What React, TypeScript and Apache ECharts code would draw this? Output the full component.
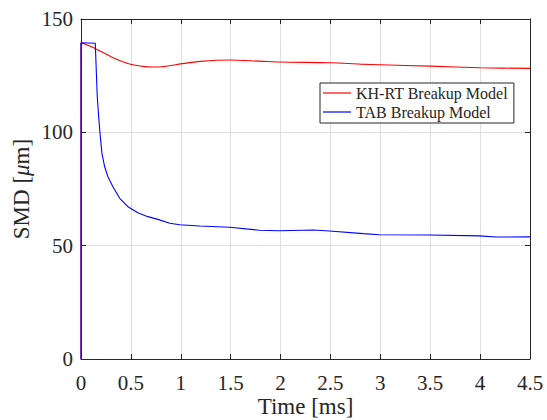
import React, { useEffect, useRef } from "react";
import * as echarts from "echarts";

const timeKH = [0, 0, 0.05, 0.14, 0.3, 0.47, 0.64, 0.77, 0.9, 1.0, 1.2, 1.49, 1.79, 2.0, 2.5, 2.8, 3.0, 3.5, 4.0, 4.5];
const smdKH = [0, 139.5, 138.7, 137, 133.4, 130.4, 129, 128.8, 129.5, 130.2, 131.3, 131.9, 131.4, 131.0, 130.7, 130.1, 129.8, 129.2, 128.5, 128.2];

const timeTAB = [0, 0, 0.143, 0.163, 0.177, 0.19, 0.21, 0.237, 0.27, 0.32, 0.388, 0.47, 0.57, 0.67, 0.77, 0.89, 0.99, 1.19, 1.49, 1.79, 1.99, 2.33, 2.49, 2.83, 2.99, 3.49, 3.99, 4.16, 4.5];
const smdTAB = [0, 139.5, 139.3, 115.7, 106.9, 99.8, 90.7, 84.8, 80.4, 76, 70.9, 67.2, 64.5, 62.8, 61.6, 59.9, 59.2, 58.7, 58.1, 56.8, 56.6, 56.9, 56.5, 55.3, 54.8, 54.7, 54.3, 53.8, 53.9];

const seriesNames = ["KH-RT Breakup Model", "TAB Breakup Model"];
const xTitle = "Time [ms]";

const FONT = "Liberation Serif";
const AX = "#262626";

export default function App() {
  const ref = useRef<HTMLDivElement>(null);
  useEffect(() => {
    if (!ref.current) return;
    const chart = echarts.init(ref.current, null, { renderer: "svg" });
    const zip = (xs: number[], ys: number[]) => xs.map((x, i) => [x, ys[i]]);
    const hiddenAxisCommon = {
      axisLine: { show: true, onZero: false, lineStyle: { color: AX, width: 1 } },
      axisTick: { show: true, inside: true, length: 5, lineStyle: { color: AX } },
      axisLabel: { show: false },
      splitLine: { show: false },
    };
    chart.setOption({
      animation: false,
      backgroundColor: "#ffffff",
      grid: { left: 81, right: 17, top: 19, bottom: 61, containLabel: false, outerBoundsMode: "none" },
      legend: {
        data: seriesNames.map((n) => ({ name: n, icon: "rect" })),
        orient: "vertical",
        left: 320,
        top: 83,
        itemWidth: 28,
        itemHeight: 1.2,
        itemGap: 3,
        padding: [2, 6, 3, 3],
        backgroundColor: "#ffffff",
        borderColor: AX,
        borderWidth: 1,
        borderRadius: 0,
        textStyle: { fontFamily: FONT, fontSize: 16, color: AX, lineHeight: 16 },
      },
      xAxis: [
        {
          type: "value",
          min: 0,
          max: 4.5,
          interval: 0.5,
          position: "bottom",
          name: xTitle,
          nameLocation: "middle",
          nameGap: 36,
          nameMoveOverlap: false,
          nameTextStyle: { fontFamily: FONT, fontSize: 23, lineHeight: 23, color: AX },
          axisLine: { show: true, onZero: false, lineStyle: { color: AX, width: 1 } },
          axisTick: { show: true, inside: true, length: 5, lineStyle: { color: AX } },
          axisLabel: { fontFamily: FONT, fontSize: 21, color: AX, margin: 13 },
          splitLine: { show: true, lineStyle: { color: "#dfdfdf", width: 1 } },
        },
        { type: "value", min: 0, max: 4.5, interval: 0.5, position: "top", ...hiddenAxisCommon },
      ],
      yAxis: [
        {
          type: "value",
          min: 0,
          max: 150,
          interval: 50,
          position: "left",
          name: "{n|SMD [}{i|μ}{n|m]}",
          nameLocation: "middle",
          nameGap: 48,
          nameMoveOverlap: false,
          nameRotate: 90,
          nameTextStyle: {
            fontFamily: FONT,
            fontSize: 23,
            color: AX,
            rich: {
              n: { fontFamily: FONT, fontSize: 23, color: AX },
              i: { fontFamily: FONT, fontSize: 23, color: AX, fontStyle: "italic" },
            },
          },
          axisLine: { show: true, onZero: false, lineStyle: { color: AX, width: 1 } },
          axisTick: { show: true, inside: true, length: 5, lineStyle: { color: AX } },
          axisLabel: { fontFamily: FONT, fontSize: 21, color: AX, margin: 8 },
          splitLine: { show: true, lineStyle: { color: "#dfdfdf", width: 1 } },
        },
        { type: "value", min: 0, max: 150, interval: 50, position: "right", ...hiddenAxisCommon },
      ],
      series: [
        {
          name: seriesNames[0],
          type: "line",
          data: zip(timeKH, smdKH),
          symbol: "none",
          smooth: 0.3,
          lineStyle: { color: "#ff0000", width: 1.1 },
          itemStyle: { color: "#ff0000" },
          xAxisIndex: 0,
          yAxisIndex: 0,
        },
        {
          name: seriesNames[1],
          type: "line",
          data: zip(timeTAB, smdTAB),
          symbol: "none",
          lineStyle: { color: "#0000ff", width: 1.1 },
          itemStyle: { color: "#0000ff" },
          xAxisIndex: 0,
          yAxisIndex: 0,
        },
      ],
    });
    return () => chart.dispose();
  }, []);
  return <div ref={ref} style={{ width: 547, height: 420, position: "absolute", left: 0, top: 0 }} />;
}
